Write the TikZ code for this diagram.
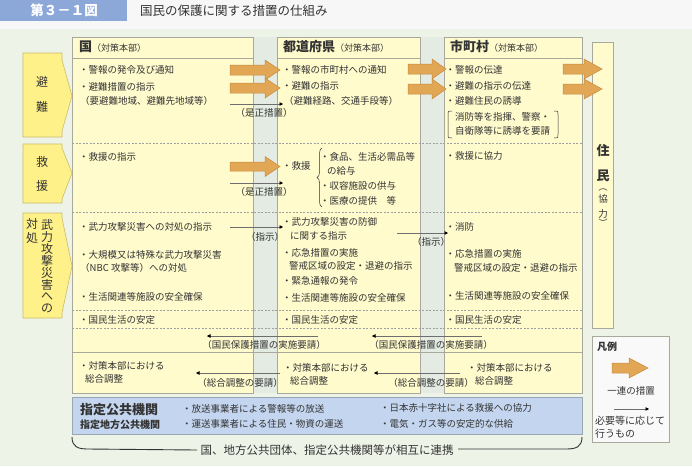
\documentclass[tikz,border=0pt]{standalone}
\usepackage{fontspec}
\setmainfont{Noto Sans CJK JP}
\usetikzlibrary{arrows.meta,decorations.pathreplacing}
\definecolor{ink}{HTML}{333333}
\definecolor{bgtop}{HTML}{F7F7F7}
\definecolor{bggreen}{HTML}{EEF3E7}
\definecolor{titleblue}{HTML}{8CA8D8}
\definecolor{panel}{HTML}{FFFBCC}
\definecolor{catfill}{HTML}{FFF189}
\definecolor{catedge}{HTML}{C9BC6A}
\definecolor{band}{HTML}{E3EBE2}
\definecolor{edge}{HTML}{A8A89C}
\definecolor{orangefill}{HTML}{E2A755}
\definecolor{orangeedge}{HTML}{C68B3E}
\definecolor{bluefill}{HTML}{C4D6EF}
\definecolor{blueedge}{HTML}{9AA5B3}
\definecolor{legendfill}{HTML}{F9F9F9}
\definecolor{dashc}{HTML}{A0A0A0}
\definecolor{thinc}{HTML}{6E6E6E}
\newcommand\bodyfs{\fontsize{9.5}{11}\selectfont}
\newcommand\fatarrow[5]{%
  \filldraw[fill=orangefill,draw=orangeedge,line width=0.5pt] (#1,#4-#5) -- (#3,#4-#5) -- (#3,#4-10) -- (#2,#4) -- (#3,#4+10) -- (#3,#4+#5) -- (#1,#4+#5) -- cycle;}
\newcommand\catshape[5]{%
  \filldraw[fill=catfill,draw=catedge,line width=0.6pt] (23,#1) -- (62,#1) -- (62,#3) -- (72,#5) -- (62,#4) -- (62,#2) -- (23,#2) -- cycle;}
\begin{document}
\begin{tikzpicture}[x=1pt,y=-1pt,
  txt/.style={anchor=west,inner sep=0pt,text=ink,font=\bodyfs},
  ctxt/.style={anchor=center,inner sep=0pt,text=ink,font=\bodyfs},
  cattxt/.style={anchor=center,inner sep=0pt,text=ink,font=\fontsize{12}{12}\selectfont},
  headtxt/.style={anchor=west,inner sep=0pt,text=ink},
  colbox/.style={fill=panel,draw=edge,line width=0.6pt},
  dashline/.style={draw=dashc,line width=0.5pt,dash pattern=on 2pt off 1.5pt},
  thinarrow/.style={draw=thinc,line width=0.6pt,-{Triangle[length=3.5pt,width=3.5pt,color=black]}},
  joinline/.style={draw=ink,line width=0.9pt}]
\useasboundingbox (0,0) rectangle (692,466);
% backgrounds
\fill[bgtop] (0,0) rectangle (692,29);
\fill[bggreen] (0,29) rectangle (692,466);
% title
\fill[titleblue] (0,0) rectangle (127,21);
\node[inner sep=0pt,text=white,font=\fontsize{13.5}{14}\selectfont\bfseries] (titlenum) at (64,10.5) {第３－１図};
\node[headtxt,font=\fontsize{12.5}{14}\selectfont] (titletext) at (140,10.5) {国民の保護に関する措置の仕組み};
% bands
\fill[band] (253,37) rectangle (277,393);
\fill[band] (420,37) rectangle (444,393);
% columns
\draw[colbox] (72,37) rectangle (253,393);
\draw[colbox] (277,37) rectangle (420,393);
\draw[colbox] (444,37) rectangle (582,393);
\draw[draw=edge,line width=0.6pt] (253,37) -- (253,393) (277,37) -- (277,393) (420,37) -- (420,393) (444,37) -- (444,393);
% header lines
\draw[draw=edge,line width=0.6pt] (72,58) -- (253,58) (277,58) -- (420,58) (444,58) -- (582,58);
% row separators
\draw[dashline] (72,143) -- (582,143);
\draw[dashline] (72,212) -- (582,212);
\draw[dashline] (72,310) -- (582,310);
\draw[dashline] (72,328) -- (582,328);
\draw[draw=edge,line width=0.6pt] (72,352) -- (582,352);
% residents box
\draw[colbox] (592,42) rectangle (613,328);
% headers
\node[headtxt] (hkuni) at (79,47) {{\fontsize{13}{14}\selectfont\bfseries 国}{\fontsize{9}{11}\selectfont（対策本部）}};
\node[headtxt] (hpref) at (283,47) {{\fontsize{13}{14}\selectfont\bfseries 都道府県}{\fontsize{9}{11}\selectfont（対策本部）}};
\node[headtxt] (hcity) at (450,47) {{\fontsize{13}{14}\selectfont\bfseries 市町村}{\fontsize{9}{11}\selectfont（対策本部）}};
% category boxes
\catshape{53}{137}{60}{131}{96}
\catshape{144}{203}{148}{199}{173}
\catshape{213}{318}{218}{313}{266}
\node[cattxt] (cat1a) at (42,82) {避};
\node[cattxt] (cat1b) at (42,107) {難};
\node[cattxt] (cat2a) at (42,162) {救};
\node[cattxt] (cat2b) at (42,186) {援};
\foreach \c [count=\i] in {武,力,攻,撃,災,害,へ,の}
  \node[cattxt] (cv\i) at (47,{225+(\i-1)*11.9}) {\c};
\node[cattxt] (cl1) at (32,224) {対};
\node[cattxt] (cl2) at (32,238) {処};
% national column
\node[txt] (k1) at (79,70) {・警報の発令及び通知};
\node[txt] (k2) at (79,87) {・避難措置の指示};
\node[txt] (k3) at (80,101) {（要避難地域、避難先地域等）};
\node[txt] (k4) at (79,157) {・救援の指示};
\node[txt] (k5) at (79,227) {・武力攻撃災害への対処の指示};
\node[txt] (k6) at (79,255) {・大規模又は特殊な武力攻撃災害};
\node[txt] (k7) at (80,268) {（NBC 攻撃等）への対処};
\node[txt] (k8) at (79,297) {・生活関連等施設の安全確保};
\node[txt] (k9) at (79,320) {・国民生活の安定};
\node[txt] (k10) at (79,366) {・対策本部における};
\node[txt] (k11) at (85,379) {総合調整};
% prefecture column
\node[txt] (t1) at (282,70) {・警報の市町村への通知};
\node[txt] (t2) at (282,86) {・避難の指示};
\node[txt] (t3) at (284,101) {（避難経路、交通手段等）};
\node[txt] (t4) at (282,166) {・救援};
\draw[draw=ink,line width=0.5pt,decorate,decoration={brace,amplitude=5pt}] (322,207) -- (322,148);
\node[txt] (t5) at (320,157) {・食品、生活必需品等};
\node[txt] (t6) at (327,171) {の給与};
\node[txt] (t7) at (320,186) {・収容施設の供与};
\node[txt] (t8) at (320,201) {・医療の提供　等};
\node[txt] (t9) at (282,222) {・武力攻撃災害の防御};
\node[txt] (t10) at (290,236) {に関する指示};
\node[txt] (t11) at (282,253) {・応急措置の実施};
\node[txt] (t12) at (289,266) {警戒区域の設定・退避の指示};
\node[txt] (t13) at (282,281) {・緊急通報の発令};
\node[txt] (t14) at (282,298) {・生活関連等施設の安全確保};
\node[txt] (t15) at (282,320) {・国民生活の安定};
\node[txt] (t16) at (283,368) {・対策本部における};
\node[txt] (t17) at (290,381) {総合調整};
% municipal column
\node[txt] (s1) at (445.5,70) {・警報の伝達};
\node[txt] (s2) at (445.5,86) {・避難の指示の伝達};
\node[txt] (s3) at (445.5,101) {・避難住民の誘導};
\node[txt] (s4) at (455,117) {消防等を指揮、警察・};
\node[txt] (s5) at (455,131) {自衛隊等に誘導を要請};
\draw[draw=ink,line width=0.5pt] (452,111) .. controls (448,111) .. (448,115) -- (448,134) .. controls (448,138) .. (452,138);
\draw[draw=ink,line width=0.5pt] (554,111) .. controls (558,111) .. (558,115) -- (558,134) .. controls (558,138) .. (554,138);
\node[txt] (s6) at (445.5,156) {・救援に協力};
\node[txt] (s7) at (445.5,227) {・消防};
\node[txt] (s8) at (445.5,254) {・応急措置の実施};
\node[txt] (s9) at (454,268) {警戒区域の設定・退避の指示};
\node[txt] (s10) at (445.5,296) {・生活関連等施設の安全確保};
\node[txt] (s11) at (445.5,320) {・国民生活の安定};
\node[txt] (s12) at (467,368) {・対策本部における};
\node[txt] (s13) at (475,381) {総合調整};
% residents
\node[cattxt,font=\fontsize{13}{13}\selectfont\bfseries] (r1) at (603,151) {住};
\node[cattxt,font=\fontsize{13}{13}\selectfont\bfseries] (r2) at (603,176) {民};
\node[cattxt,font=\fontsize{9}{9}\selectfont] (r3) at (603,190) {︵};
\node[cattxt,font=\fontsize{9.5}{10}\selectfont] (r4) at (603,199) {協};
\node[cattxt,font=\fontsize{9.5}{10}\selectfont] (r5) at (603,214) {力};
\node[cattxt,font=\fontsize{9}{9}\selectfont] (r6) at (603,223) {︶};
% fat arrows
\fatarrow{230}{280}{265}{70}{5}
\fatarrow{230}{280}{265}{88}{5}
\fatarrow{408}{446}{432}{69}{5}
\fatarrow{408}{446}{432}{89}{5}
\fatarrow{563}{602}{584}{69}{5}
\fatarrow{563}{602}{584}{89}{5}
\fatarrow{230}{280}{265}{166.5}{4.5}
% thin arrows and labels
\coordinate (p1s) at (230,104); \coordinate (p1e) at (283,104);
\draw[thinarrow] (p1s) -- (p1e);
\node[ctxt] (l1) at (264,113) {（是正措置）};
\coordinate (p2s) at (230,183); \coordinate (p2e) at (283,183);
\draw[thinarrow] (p2s) -- (p2e);
\node[ctxt] (l2) at (264,192) {（是正措置）};
\coordinate (p3s) at (230,227); \coordinate (p3e) at (283,227);
\draw[thinarrow] (p3s) -- (p3e);
\node[ctxt] (l3) at (265,237) {（指示）};
\coordinate (p4s) at (397,233); \coordinate (p4e) at (448,233);
\draw[thinarrow] (p4s) -- (p4e);
\node[ctxt] (l4) at (431,242) {（指示）};
\coordinate (p5s) at (318,336); \coordinate (p5e) at (207,336);
\draw[thinarrow] (p5s) -- (p5e);
\node[ctxt] (l5) at (264,345) {（国民保護措置の実施要請）};
\coordinate (p6s) at (482,336); \coordinate (p6e) at (372,336);
\draw[thinarrow] (p6s) -- (p6e);
\node[ctxt] (l6) at (431,345) {（国民保護措置の実施要請）};
\coordinate (p7s) at (280,373); \coordinate (p7e) at (196,373);
\draw[thinarrow] (p7s) -- (p7e);
\node[ctxt] (l7) at (240,383) {（総合調整の要請）};
\coordinate (p8s) at (460,373); \coordinate (p8e) at (374,373);
\draw[thinarrow] (p8s) -- (p8e);
\node[ctxt] (l8) at (431,383) {（総合調整の要請）};
% designated public institutions
\draw[fill=bluefill,draw=blueedge,line width=0.6pt] (72,397) rectangle (582,434);
\node[headtxt,font=\fontsize{13}{14}\selectfont\bfseries] (b1) at (80,410) {指定公共機関};
\node[headtxt,font=\fontsize{10}{11}\selectfont\bfseries] (b2) at (80,424.5) {指定地方公共機関};
\node[txt] (b3) at (182,409) {・放送事業者による警報等の放送};
\node[txt] (b4) at (182,424) {・運送事業者による住民・物資の運送};
\node[txt] (b5) at (380,408) {・日本赤十字社による救援への協力};
\node[txt] (b6) at (380,424) {・電気・ガス等の安定的な供給};
% joint bracket
\node[ctxt,font=\fontsize{11.5}{12}\selectfont] (jt) at (327,450) {国、地方公共団体、指定公共機関等が相互に連携};
\coordinate (jl) at (72,437); \coordinate (jr) at (582,437);
\draw[joinline] (jl) .. controls (72,447) and (78,449) .. (88,449) -- (jt.west -| 197,449);
\draw[joinline] (jr) .. controls (582,447) and (576,449) .. (566,449) -- (458,449);
% legend
\draw[fill=legendfill,draw=edge,line width=0.6pt] (592,336) rectangle (669,442);
\node[headtxt,font=\fontsize{10}{11}\selectfont\bfseries] (lg0) at (597,347) {凡例};
\fatarrow{612}{648}{629}{368}{5}
\node[ctxt] (lg1) at (631,391) {一連の措置};
\coordinate (lgs) at (614,409); \coordinate (lge) at (649,409);
\draw[thinarrow] (lgs) -- (lge);
\node[txt,font=\fontsize{10}{11}\selectfont] (lg2) at (595,421) {必要等に応じて};
\node[txt,font=\fontsize{10}{11}\selectfont] (lg3) at (595,434) {行うもの};
\end{tikzpicture}
\end{document}
